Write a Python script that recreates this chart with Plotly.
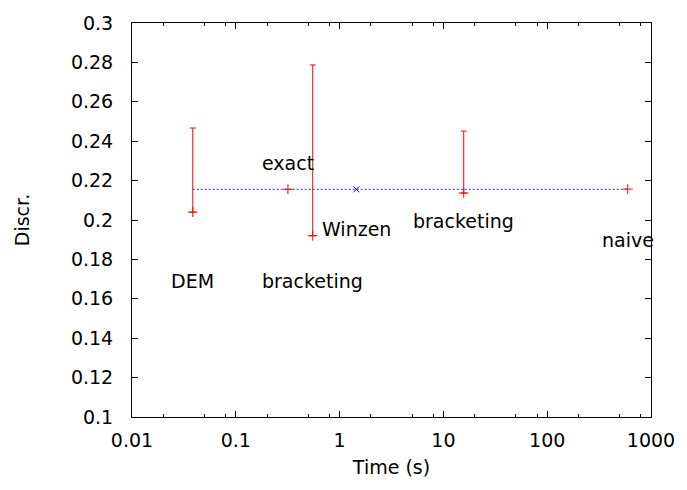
import math
import plotly.graph_objects as go

# ---- data ----
err_names = ["DEM", "bracketing", "bracketing"]
err_x = [0.0385, 0.551, 15.7]
err_low = [0.204, 0.192, 0.2137]
err_high = [0.2467, 0.2787, 0.2451]

pt_names = ["exact", "naive"]
pt_x = [0.318, 597]
pt_y = [0.2156, 0.2157]

winzen_x = [1.45]
winzen_y = [0.2156]

ref_x = [0.0385, 597]
ref_y = [0.2156, 0.2156]

label_text = ["DEM", "bracketing", "exact", "Winzen", "bracketing", "naive"]
label_x = [0.0385, 0.551, 0.318, 1.47, 15.7, 597]
label_y = [0.1688, 0.1688, 0.2288, 0.1953, 0.1993, 0.1897]

xtick_vals = [0.01, 0.1, 1, 10, 100, 1000]
xtick_text = ["0.01", "0.1", "1", "10", "100", "1000"]
xminor_vals = [m * 10 ** e for e in range(-2, 3) for m in (2, 5, 8)]
ytick_vals = [0.1, 0.12, 0.14, 0.16, 0.18, 0.2, 0.22, 0.24, 0.26, 0.28, 0.3]
ytick_text = ["0.1", "0.12", "0.14", "0.16", "0.18", "0.2", "0.22", "0.24", "0.26", "0.28", "0.3"]

FONT = "DejaVu Sans"

fig = go.Figure()

# blue dotted reference line
fig.add_trace(go.Scatter(x=ref_x, y=ref_y, mode="lines",
                         line=dict(color="#2020ff", width=1, dash="2px,2px"),
                         hoverinfo="skip", showlegend=False))

# error bars (point at low value, bar up to high value)
fig.add_trace(go.Scatter(
    x=err_x, y=err_low, mode="markers",
    marker=dict(symbol="cross-thin", size=7, color="red",
                line=dict(color="red", width=1)),
    error_y=dict(type="data", symmetric=False,
                 array=[h - l for h, l in zip(err_high, err_low)],
                 arrayminus=[0] * len(err_low),
                 color="red", thickness=1, width=3),
    text=err_names, showlegend=False))

# plain points
fig.add_trace(go.Scatter(
    x=pt_x, y=pt_y, mode="markers", text=pt_names,
    marker=dict(symbol="cross-thin", size=7, color="red",
                line=dict(color="red", width=1)),
    showlegend=False))

# Winzen point
fig.add_trace(go.Scatter(
    x=winzen_x, y=winzen_y, mode="markers",
    marker=dict(symbol="x-thin", size=6, color="blue",
                line=dict(color="blue", width=1)),
    showlegend=False))

# annotations on a log axis take log10 positions
for t, x, y in zip(label_text, label_x, label_y):
    fig.add_annotation(x=math.log10(x), y=y, xref="x", yref="y", text=t, showarrow=False,
                       xanchor="center", yanchor="middle",
                       font=dict(family=FONT, size=19, color="black"))

axis_common = dict(showline=True, linecolor="black", linewidth=1, mirror="ticks",
                   ticks="inside", tickcolor="black", showgrid=False, zeroline=False,
                   tickfont=dict(family=FONT, size=19, color="black"))

fig.update_xaxes(type="log", range=[-2, 3], tickvals=xtick_vals, ticktext=xtick_text,
                 ticklen=6, ticklabelstandoff=6,
                 minor=dict(tickvals=xminor_vals, ticks="inside", ticklen=3, tickcolor="black"),
                 title=dict(text="Time (s)", font=dict(family=FONT, size=19, color="black"),
                            standoff=10),
                 **axis_common)
fig.update_yaxes(range=[0.1, 0.3], tickvals=ytick_vals, ticktext=ytick_text, ticklen=6,
                 ticklabelstandoff=14,
                 title=dict(text="Discr.", font=dict(family=FONT, size=19, color="black"),
                            standoff=36),
                 **axis_common)

fig.update_layout(width=687, height=490, margin=dict(l=132, r=32, t=19, b=73),
                  plot_bgcolor="white", paper_bgcolor="white",
                  font=dict(family=FONT, size=19, color="black"))

fig.write_html("out.html")
